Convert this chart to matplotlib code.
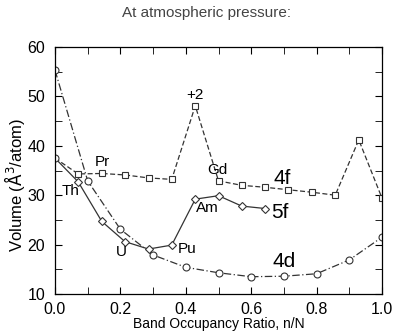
import numpy as np
import matplotlib.pyplot as plt
from matplotlib.ticker import MultipleLocator

plt.rcParams['font.family'] = ['Liberation Sans', 'DejaVu Sans']

# 4d series (circles, dash-dot)
x_4d = [0.0, 0.1, 0.2, 0.3, 0.4, 0.5, 0.6, 0.7, 0.8, 0.9, 1.0]
v_4d = [55.3, 32.9, 23.1, 17.9, 15.4, 14.3, 13.5, 13.6, 14.1, 16.9, 21.5]

# 5f series (diamonds, solid)
x_5f = [0.0, 0.071, 0.143, 0.214, 0.286, 0.357, 0.429, 0.5, 0.571, 0.643]
v_5f = [37.5, 32.7, 24.7, 20.6, 19.1, 19.9, 29.2, 29.9, 27.8, 27.3]

# 4f series (squares, dashed)
x_4f = [0.0, 0.071, 0.143, 0.214, 0.286, 0.357, 0.429, 0.5, 0.571, 0.643,
        0.714, 0.786, 0.857, 0.929, 1.0]
v_4f = [37.5, 34.3, 34.4, 34.1, 33.5, 33.2, 48.1, 32.9, 32.0, 31.6,
        31.1, 30.6, 30.0, 41.2, 29.4]

# labels on the curves
small_lbl = ['Th', 'Pr', 'U', 'Pu', 'Am', 'Gd', '+2']
small_x = [0.049, 0.144, 0.202, 0.404, 0.465, 0.498, 0.428]
small_y = [30.9, 36.7, 18.6, 19.1, 27.4, 35.2, 50.3]
big_lbl = ['4f', '5f', '4d']
big_x = [0.694, 0.688, 0.70]
big_y = [33.4, 26.5, 16.5]

fig = plt.figure(figsize=(3.94, 3.32), dpi=100)
ax = fig.add_axes([55/394, 1-294/332, 327/394, 247/332])

mk = dict(mfc='white', mec='#333333', color='#333333', lw=0.9, ms=5, mew=0.8)
ax.plot(x_4d, v_4d, linestyle=(0, (6, 2, 1, 2)), marker='o', **mk)
ax.plot(x_4f, v_4f, linestyle=(0, (4, 2)), marker='s', markevery=list(range(1, len(x_4f))),
        **dict(mk, ms=4.5))
ax.plot(x_5f, v_5f, linestyle='-', marker='D', markevery=list(range(1, len(x_5f))),
        **dict(mk, ms=4.2))
ax.plot(x_5f[:1], v_5f[:1], linestyle='none', marker='o', **mk)

for t, x, y in zip(small_lbl, small_x, small_y):
    ax.text(x, y, t, ha='center', va='center', fontsize=11)
for t, x, y in zip(big_lbl, big_x, big_y):
    ax.text(x, y, t, ha='center', va='center', fontsize=15)

ax.set_xlim(0, 1)
ax.set_ylim(10, 60)
ax.xaxis.set_major_locator(MultipleLocator(0.2))
ax.xaxis.set_minor_locator(MultipleLocator(0.1))
ax.yaxis.set_major_locator(MultipleLocator(10))
ax.yaxis.set_minor_locator(MultipleLocator(5))
ax.xaxis.set_major_formatter(plt.FuncFormatter(lambda v, p: '%.1f' % v))
ax.tick_params(which='both', direction='in', top=True, right=True, labelsize=11.5)
ax.tick_params(axis='x', pad=6)
ax.tick_params(axis='y', pad=7)
ax.tick_params(which='major', length=5)
ax.tick_params(which='minor', length=5)
for s in ax.spines.values():
    s.set_linewidth(0.9)

ax.set_xlabel('Band Occupancy Ratio, n/N', fontsize=10)
ax.xaxis.set_label_coords(0.5, -0.095)
ax.set_ylabel('Volume ($\\mathrm{\\AA^3}$/atom)', fontsize=12)
ax.yaxis.set_label_coords(-0.085, 0.44)
fig.text(207/394, 1-13/332, 'At atmospheric pressure:', ha='center', va='center',
         fontsize=11, color='#444444')

fig.savefig('out.png', dpi=100)
